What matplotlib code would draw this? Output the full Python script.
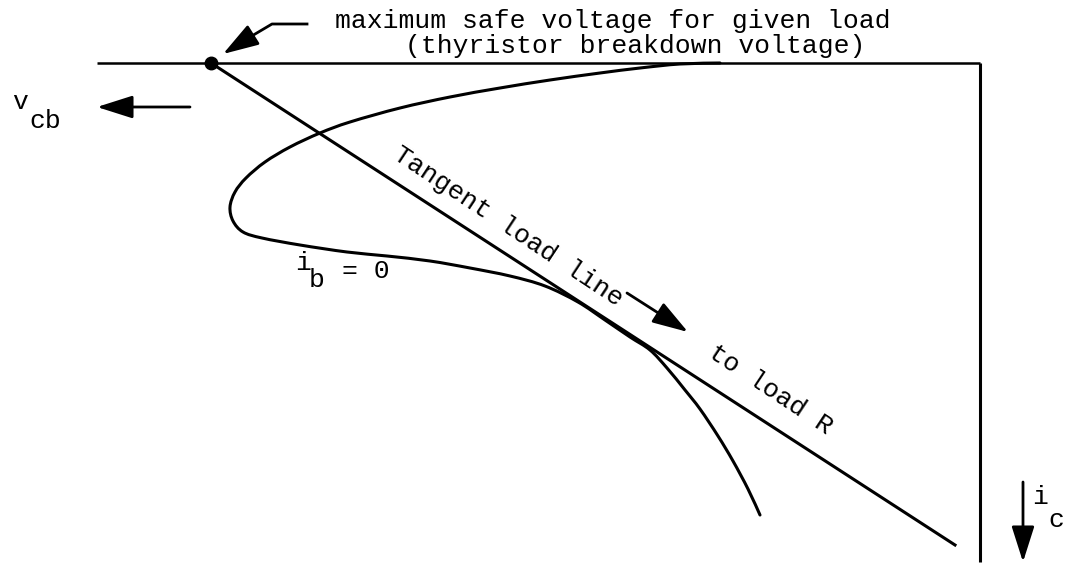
import numpy as np
import matplotlib
matplotlib.use("Agg")
import matplotlib.pyplot as plt
from matplotlib.path import Path
from matplotlib.patches import PathPatch, FancyArrowPatch

# diagram units: x = v_cb (grows to the left in the picture), y = i_c (grows downward)
ib0_v = [720, 680, 640, 600, 550, 500, 450, 400, 350, 320, 290, 265, 246, 235,
         230, 233, 243, 262, 300, 347, 387, 430, 470, 510, 545, 578, 605, 630,
         650, 667, 685, 700, 718, 733, 748, 760]
ib0_i = [63, 64, 68, 73, 80, 88, 97, 108, 122, 133, 147, 162, 178, 192,
         207, 221, 232, 238, 245, 252, 256, 261, 268, 276, 286, 302, 320, 337,
         350, 368, 390, 409, 436, 461, 489, 515]

# tangent load line, from the breakdown point down to the load R end
load_v = [211, 955]
load_i = [63, 545]

# axes frame: top (v_cb) axis and right (i_c) axis
axis_top_v = [97, 980]
axis_top_i = [63, 63]
axis_right_v = [980, 980]
axis_right_i = [63, 562]

font = "Liberation Mono"
fs = 19

fig = plt.figure(figsize=(10.66, 5.65), dpi=100)
ax = fig.add_axes([0, 0, 1, 1])
ax.set_xlim(0, 1066)
ax.set_ylim(565, 0)
ax.axis("off")


def smooth_path(xs, ys):
    # Catmull-Rom through the points, handed to matplotlib as cubic beziers
    pts = np.column_stack([xs, ys]).astype(float)
    verts = [pts[0]]
    codes = [Path.MOVETO]
    for k in range(len(pts) - 1):
        p0 = pts[max(k - 1, 0)]
        p1 = pts[k]
        p2 = pts[k + 1]
        p3 = pts[min(k + 2, len(pts) - 1)]
        verts += [p1 + (p2 - p0) / 6, p2 - (p3 - p1) / 6, p2]
        codes += [Path.CURVE4] * 3
    return Path(verts, codes)


ax.plot(axis_top_v, axis_top_i, color="black", lw=1.8, solid_capstyle="butt")
ax.plot(axis_right_v, axis_right_i, color="black", lw=2.2, solid_capstyle="butt")
ax.plot(load_v, load_i, color="black", lw=2.2)
ax.add_patch(PathPatch(smooth_path(ib0_v, ib0_i), fill=False, lw=2.2,
                       edgecolor="black", capstyle="round", joinstyle="round"))
ax.plot(load_v[0], load_i[0], "o", color="black", ms=9)

arrow_kw = dict(arrowstyle="-|>,head_length=1.1,head_width=0.35",
                mutation_scale=20, color="black", lw=2.0, shrinkA=0, shrinkB=0)

# v_cb direction arrow and label
ax.add_patch(FancyArrowPatch((190, 107), (97, 107), **arrow_kw))
ax.text(20, 102, "v", fontsize=fs, family=font, ha="center", va="center")
ax.text(45, 121, "cb", fontsize=fs, family=font, ha="center", va="center")

# i_c direction arrow and label
ax.add_patch(FancyArrowPatch((1023, 482), (1023, 562), **arrow_kw))
ax.text(1040, 497, "i", fontsize=fs, family=font, ha="center", va="center")
ax.text(1056, 520, "c", fontsize=fs, family=font, ha="center", va="center")

# leader to the breakdown point
ax.plot([307, 272, 245], [24, 24, 40], color="black", lw=2.0)
ax.add_patch(FancyArrowPatch((250, 37), (223, 54), **arrow_kw))
ax.text(335, 21, "maximum safe voltage for given load", fontsize=fs,
        family=font, ha="left", va="center")
ax.text(865, 46, "(thyristor breakdown voltage)", fontsize=fs,
        family=font, ha="right", va="center")

# load line captions
angle = 33.5
ax.text(508, 226, "Tangent load line", fontsize=fs, family=font,
        rotation=-angle, rotation_mode="anchor", ha="center", va="center")
ax.add_patch(FancyArrowPatch((627, 293), (688, 332), **arrow_kw))
ax.text(770, 390, "to load R", fontsize=fs, family=font,
        rotation=-angle, rotation_mode="anchor", ha="center", va="center")

# i_b = 0 label under the curve
ax.text(303, 263, "i", fontsize=fs, family=font, ha="center", va="center")
ax.text(317, 280, "b", fontsize=fs, family=font, ha="center", va="center")
ax.text(342, 271, "= 0", fontsize=fs, family=font, ha="left", va="center")

fig.savefig("out.png", dpi=100, facecolor="white")
